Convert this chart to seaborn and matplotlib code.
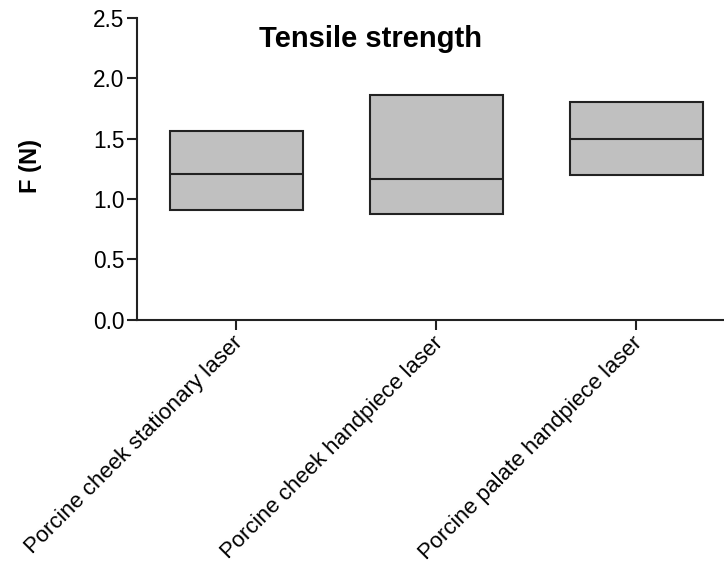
import matplotlib
matplotlib.use("Agg")
import matplotlib.pyplot as plt
import matplotlib.transforms as mtransforms
import seaborn as sns
import pandas as pd

categories = ["Porcine cheek stationary laser",
              "Porcine cheek handpiece laser",
              "Porcine palate handpiece laser"]
mins = [0.91, 0.88, 1.20]
medians = [1.21, 1.17, 1.50]
maxs = [1.56, 1.86, 1.80]
yticks = [0.0, 0.5, 1.0, 1.5, 2.0, 2.5]

# build long table: min, min, median, max, max -> Q1=min, Q3=max, whiskers collapse
rows = []
for c, lo, md, hi in zip(categories, mins, medians, maxs):
    for v in (lo, lo, md, hi, hi):
        rows.append({"group": c, "F": v})
df = pd.DataFrame(rows)

sns.set_style("ticks")
plt.rcParams["font.family"] = ["Liberation Sans", "DejaVu Sans"]
plt.rcParams["text.color"] = "black"

fig = plt.figure(figsize=(7.24, 5.64), dpi=100)
W, H = 724, 564
ax = fig.add_axes([137 / W, 1 - 319.7 / H, (723 - 137) / W, (319.7 - 18) / H])

sns.boxplot(data=df, x="group", y="F", order=categories, ax=ax,
            width=0.665, color="#C0C0C0", saturation=1,
            linecolor="#222222", linewidth=1.5,
            showcaps=False, showfliers=False, whis=10)

ax.set_xlim(-0.4975, 2.435)
ax.set_ylim(0, 2.5)
ax.set_yticks(yticks)
ax.set_yticklabels([f"{t:.1f}" for t in yticks])
ax.set_xlabel("")
ax.set_ylabel("")

for s in ("top", "right"):
    ax.spines[s].set_visible(False)
for s in ("left", "bottom"):
    ax.spines[s].set_linewidth(1.5)
    ax.spines[s].set_color("#222222")

ax.tick_params(axis="y", length=7, width=1.5, color="#222222",
               labelsize=16.3, labelcolor="black", pad=2)
ax.tick_params(axis="x", length=7, width=1.5, color="#222222",
               labelsize=16, labelcolor="black", pad=2)
offset = mtransforms.ScaledTranslation(-4 / 100, 0, fig.dpi_scale_trans)
for lbl in ax.get_xticklabels():
    lbl.set_rotation(45)
    lbl.set_ha("right")
    lbl.set_rotation_mode("anchor")
    lbl.set_transform(lbl.get_transform() + offset)

fig.text(31 / W, 1 - 166 / H, "F (N)", rotation=90, ha="center", va="center",
         fontsize=17, fontweight="bold", color="black")
fig.text(370.5 / W, 1 - 46.7 / H, "Tensile strength", ha="center", va="baseline",
         fontsize=21, fontweight="bold", color="black")

fig.savefig("out.png", dpi=100)
